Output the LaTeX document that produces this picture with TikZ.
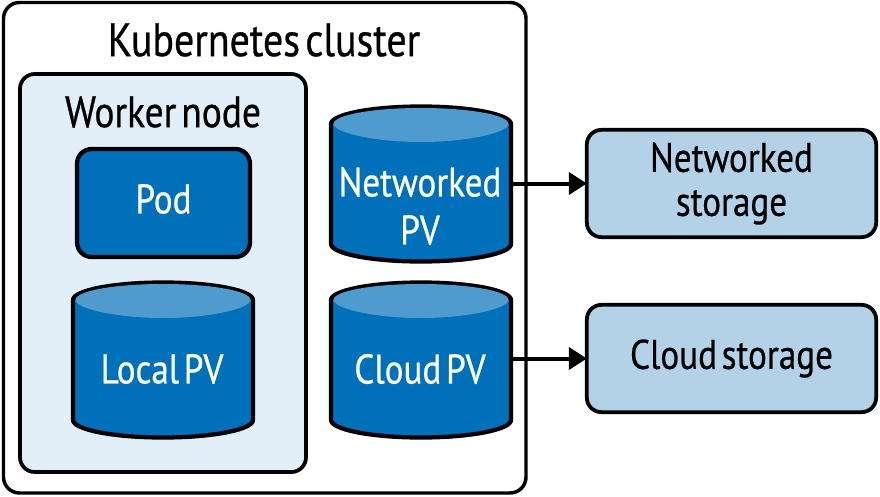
\documentclass[tikz,border=0pt]{standalone}
\usepackage{fontspec}
\setmainfont[FakeStretch=0.85,FakeBold=0.6,WordSpace=0.5]{PT Sans}
\usetikzlibrary{arrows.meta}
\definecolor{blueD}{HTML}{0070BA}
\definecolor{blueM}{HTML}{4F9BCE}
\definecolor{blueL}{HTML}{B3D2E8}
\definecolor{blueP}{HTML}{E3EFF8}
\tikzset{
  x=0.75pt,y=-0.75pt,
  every node/.style={inner sep=0pt,outer sep=0pt,align=center,font=\fontsize{31}{36}\selectfont},
  link/.style={line width=3pt,-{Triangle[length=13.5pt,width=16.5pt]}},
  pvtext/.style={text=white},
  roundbox/.style={draw=black,line width=2.8pt,rounded corners=11pt,fill=blueL,minimum width=217pt,minimum height=80.5pt},
}
\newcommand{\pvcyl}[5]{% name, x left, y top, text, text dy
  \fill[blueD,draw=black,line width=3.2pt]
    (#2,#3+19) .. controls (#2,#3+9.5) and (#2+40,#3+1.5) .. (#2+90,#3+1.5)
    .. controls (#2+140,#3+1.5) and (#2+180,#3+9.5) .. (#2+180,#3+19)
    -- (#2+180,#3+139)
    .. controls (#2+180,#3+148.5) and (#2+140,#3+156.5) .. (#2+90,#3+156.5)
    .. controls (#2+40,#3+156.5) and (#2,#3+148.5) .. (#2,#3+139) -- cycle;
  \fill[blueM] (#2+2.5,#3+19)
    .. controls (#2+2.5,#3+10) and (#2+41,#3+3) .. (#2+90,#3+3)
    .. controls (#2+139,#3+3) and (#2+177.5,#3+10) .. (#2+177.5,#3+19)
    .. controls (#2+177.5,#3+27) and (#2+139,#3+37) .. (#2+90,#3+37)
    .. controls (#2+41,#3+37) and (#2+2.5,#3+27) .. (#2+2.5,#3+19) -- cycle;
  \node[minimum width=135pt,minimum height=117.75pt,anchor=north west] (#1) at (#2,#3) {};
  \node[pvtext,anchor=center] (#1t) at (#2+89,#3+#5) {#4};
}
\begin{document}
\begin{tikzpicture}
\useasboundingbox (0,0) rectangle (880,496);
\fill[white] (0,0) rectangle (880,496);
\draw[draw=black,line width=2.6pt,rounded corners=12pt,fill=white] (3.5,2.5) rectangle (526,493);
\node[font=\fontsize{35.2}{38}\selectfont] (title) at (264,40) {Kubernetes cluster};
\draw[draw=black,line width=2.8pt,rounded corners=11pt,fill=blueP] (20,74) rectangle (306,472);
\node[font=\fontsize{33}{36}\selectfont] (worker) at (163,112) {Worker node};
\draw[draw=black,line width=3.2pt,rounded corners=11pt,fill=blueD] (77,149) rectangle (250,257);
\node[pvtext] (pod) at (163.5,199) {Pod};
\pvcyl{localpv}{73}{281}{Local PV}{88}
\pvcyl{netpv}{331}{105}{Networked\\PV}{101}
\pvcyl{cloudpv}{331}{281}{Cloud PV}{88}
\node[roundbox,font=\fontsize{31}{33}\selectfont] (netst) at (731.5,183.5) {Networked\\storage};
\node[roundbox] (cloudst) at (731.5,358.5) {Cloud storage};
\draw[link] (netpv.east |- netst.west) -- (netst.west);
\draw[link] (cloudpv.east |- cloudst.west) -- (cloudst.west);
\end{tikzpicture}
\end{document}
